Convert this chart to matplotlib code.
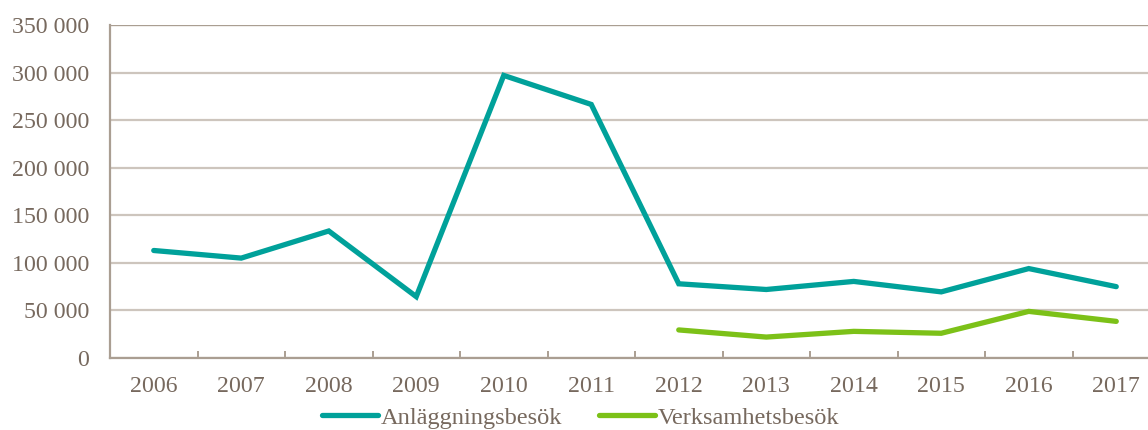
import matplotlib
matplotlib.use("Agg")
import matplotlib.pyplot as plt
from matplotlib.ticker import FuncFormatter, FixedLocator

years = ["2006", "2007", "2008", "2009", "2010", "2011",
         "2012", "2013", "2014", "2015", "2016", "2017"]
anlaggning = [113000, 105000, 133500, 64500, 297000, 266500,
              78000, 72000, 80500, 69500, 94000, 75000]
verksamhet_years = ["2012", "2013", "2014", "2015", "2016", "2017"]
verksamhet = [29500, 22000, 28000, 26000, 49000, 38500]

TEXT = "#77695e"
GRID = "#cdc5bd"
AXIS = "#aa9e92"
TEAL = "#00a19a"
GREEN = "#7cc118"

plt.rcParams["font.family"] = ["Liberation Serif", "DejaVu Serif"]

fig = plt.figure(figsize=(11.48, 4.30), dpi=100)
ax = fig.add_axes([110 / 1148, 72 / 430, 1 - 110 / 1148, 333 / 430])

xa = list(range(len(years)))
xv = [years.index(y) for y in verksamhet_years]

ax.plot(xa, anlaggning, color=TEAL, lw=3.8, solid_capstyle="round",
        solid_joinstyle="miter", label="Anläggningsbesök", zorder=3)
ax.plot(xv, verksamhet, color=GREEN, lw=3.8, solid_capstyle="round",
        solid_joinstyle="miter", label="Verksamhetsbesök", zorder=3)

ax.set_ylim(0, 350000)
ax.set_xlim(-0.5, 11.5 - 12 / 87.5)
ax.set_yticks(range(0, 350001, 50000))
ax.yaxis.set_major_formatter(FuncFormatter(lambda v, p: f"{int(v):,}".replace(",", " ")))
ax.set_xticks(xa)
ax.set_xticklabels(years)
ax.xaxis.set_minor_locator(FixedLocator([i + 0.5 for i in range(-1, 12)]))

ax.grid(axis="y", color=GRID, lw=1.6, zorder=1)
ax.set_axisbelow(True)
for s in ["top", "right"]:
    ax.spines[s].set_visible(False)
ax.axhline(350000, color=AXIS, lw=1.6, zorder=2)
for s in ["left", "bottom"]:
    ax.spines[s].set_color(AXIS)
    ax.spines[s].set_linewidth(1.6)

ax.tick_params(axis="y", length=0, pad=15, labelsize=17.2, labelcolor=TEXT)
ax.tick_params(axis="x", which="major", length=0, pad=13, labelsize=17.2, labelcolor=TEXT)
ax.tick_params(axis="x", which="minor", direction="in", length=5, width=1.4, color=AXIS)

fig.legend(loc="center", bbox_to_anchor=(0.5057, 0.028), ncol=2, frameon=False,
           fontsize=17.6, handlelength=2.3, handletextpad=0.12, columnspacing=1.48,
           labelcolor=TEXT, borderpad=0, borderaxespad=0)

fig.savefig("out.png", dpi=100)
